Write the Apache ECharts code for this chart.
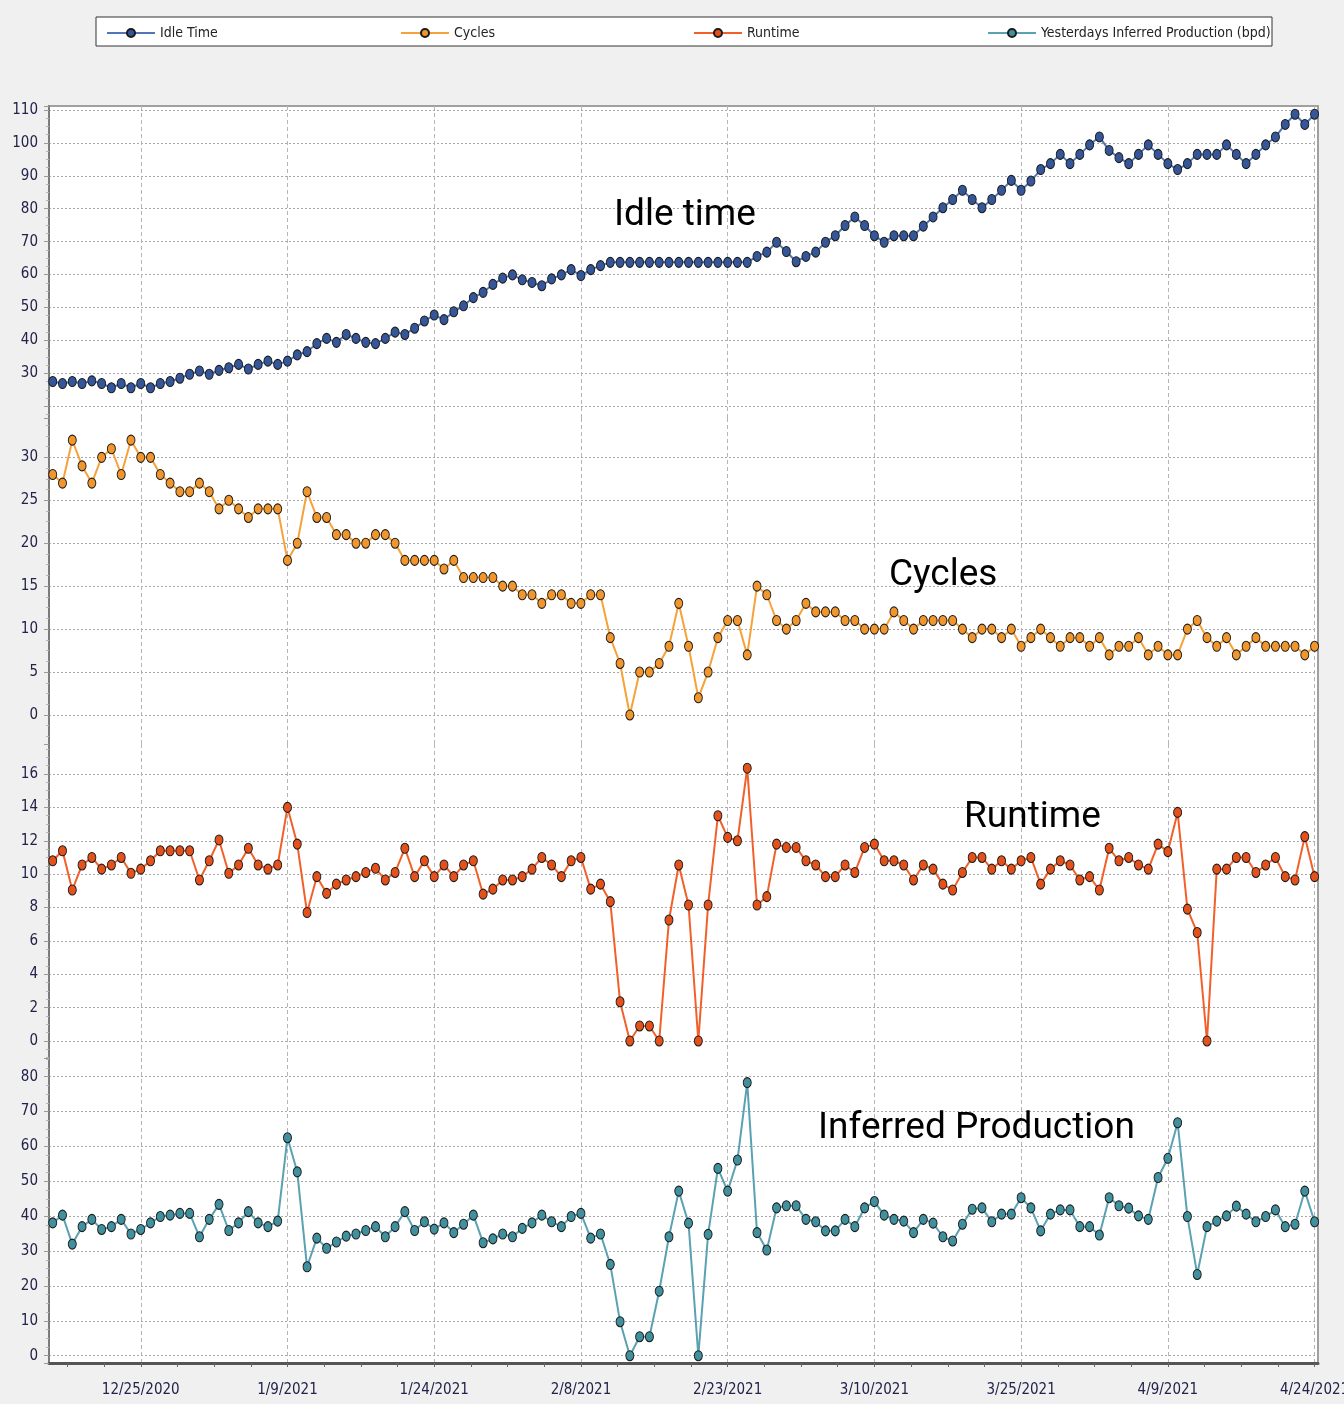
<!DOCTYPE html>
<html>
<head>
<meta charset="utf-8">
<script src="https://cdn.jsdelivr.net/npm/echarts@6/dist/echarts.min.js"></script>
<style>
  html, body { margin: 0; padding: 0; background: #f0f0f0; }
  #chart { width: 1344px; height: 1404px; }
</style>
</head>
<body>
<div id="chart"></div>
<script>
// day index 0 = 12/16/2020, one point per day up to 4/24/2021
const tickDays = [9, 24, 39, 54, 69, 84, 99, 114, 129];
const tickLabels = ['12/25/2020', '1/9/2021', '1/24/2021', '2/8/2021', '2/23/2021', '3/10/2021', '3/25/2021', '4/9/2021', '4/24/2021'];
const seriesNames = ['Idle Time', 'Cycles', 'Runtime', 'Yesterdays Inferred Production (bpd)'];

const idleTime = [
  27.5, 26.9, 27.5, 26.9, 27.7, 26.9, 25.6, 26.9, 25.6, 26.9, 25.6, 26.9, 27.5, 28.5, 29.7, 30.7, 29.7, 30.9, 31.7, 32.7,
  31.3, 32.7, 33.7, 32.7, 33.7, 35.6, 36.6, 39.0, 40.6, 39.4, 41.8, 40.6, 39.4, 39.0, 40.6, 42.5, 41.8, 43.7, 45.9, 47.7,
  46.3, 48.7, 50.5, 53.0, 54.6, 57.0, 58.9, 59.9, 58.4, 57.6, 56.6, 58.7, 59.9, 61.5, 59.7, 61.5, 62.7, 63.7, 63.7, 63.7,
  63.7, 63.7, 63.7, 63.7, 63.7, 63.7, 63.7, 63.7, 63.7, 63.7, 63.7, 63.7, 65.5, 66.8, 69.8, 67.0, 63.9, 65.5, 66.8, 69.8,
  71.8, 74.9, 77.5, 74.9, 71.8, 69.8, 71.8, 71.8, 71.8, 74.7, 77.5, 80.3, 82.8, 85.6, 82.8, 80.3, 82.8, 85.6, 88.6, 85.6,
  88.4, 91.9, 93.7, 96.5, 93.7, 96.5, 99.4, 101.8, 97.7, 95.5, 93.7, 96.5, 99.4, 96.5, 93.7, 91.9, 93.7, 96.5, 96.5, 96.5,
  99.4, 96.5, 93.7, 96.5, 99.4, 101.8, 105.6, 108.7, 105.6, 108.7
];

const cycles = [
  28, 27, 32, 29, 27, 30, 31, 28, 32, 30, 30, 28, 27, 26, 26, 27, 26, 24, 25, 24,
  23, 24, 24, 24, 18, 20, 26, 23, 23, 21, 21, 20, 20, 21, 21, 20, 18, 18, 18, 18,
  17, 18, 16, 16, 16, 16, 15, 15, 14, 14, 13, 14, 14, 13, 13, 14, 14, 9, 6, 0,
  5, 5, 6, 8, 13, 8, 2, 5, 9, 11, 11, 7, 15, 14, 11, 10, 11, 13, 12, 12,
  12, 11, 11, 10, 10, 10, 12, 11, 10, 11, 11, 11, 11, 10, 9, 10, 10, 9, 10, 8,
  9, 10, 9, 8, 9, 9, 8, 9, 7, 8, 8, 9, 7, 8, 7, 7, 10, 11, 9, 8,
  9, 7, 8, 9, 8, 8, 8, 8, 7, 8
];

const runtime = [
  10.8, 11.4, 9.05, 10.55, 11.0, 10.3, 10.55, 11.0, 10.05, 10.3, 10.8, 11.4, 11.4, 11.4, 11.4, 9.65, 10.8, 12.05, 10.05, 10.55,
  11.55, 10.55, 10.3, 10.55, 14.0, 11.8, 7.7, 9.85, 8.85, 9.4, 9.65, 9.85, 10.1, 10.35, 9.65, 10.1, 11.55, 9.85, 10.8, 9.85,
  10.55, 9.85, 10.55, 10.8, 8.8, 9.1, 9.65, 9.65, 9.85, 10.3, 11.0, 10.55, 9.85, 10.8, 11.0, 9.1, 9.4, 8.35, 2.35, 0,
  0.9, 0.9, 0, 7.25, 10.55, 8.15, 0, 8.15, 13.5, 12.2, 12.0, 16.35, 8.15, 8.65, 11.8, 11.6, 11.6, 10.8, 10.55, 9.85,
  9.85, 10.55, 10.1, 11.6, 11.8, 10.8, 10.8, 10.55, 9.65, 10.55, 10.3, 9.4, 9.05, 10.1, 11.0, 11.0, 10.3, 10.8, 10.3, 10.8,
  11.0, 9.4, 10.3, 10.8, 10.55, 9.65, 9.85, 9.05, 11.55, 10.8, 11.0, 10.55, 10.3, 11.8, 11.35, 13.7, 7.9, 6.5, 0, 10.3,
  10.3, 11.0, 11.0, 10.1, 10.55, 11.0, 9.85, 9.65, 12.25, 9.85
];

const production = [
  38.1, 40.3, 32.0, 37.0, 39.1, 36.2, 37.0, 39.1, 34.9, 36.2, 38.1, 39.9, 40.3, 40.8, 40.8, 34.1, 39.1, 43.4, 35.9, 38.1,
  41.3, 38.1, 37.0, 38.6, 62.5, 52.7, 25.5, 33.7, 30.8, 32.6, 34.3, 34.9, 35.9, 37.0, 34.1, 37.0, 41.3, 35.9, 38.4, 36.3,
  38.1, 35.3, 37.7, 40.3, 32.4, 33.5, 34.9, 34.1, 36.5, 38.1, 40.3, 38.4, 37.0, 39.9, 40.8, 33.7, 34.9, 26.2, 9.75, 0,
  5.45, 5.45, 18.5, 34.1, 47.2, 38.0, 0, 34.8, 53.7, 47.2, 56.1, 78.3, 35.3, 30.3, 42.4, 43.0, 43.0, 39.1, 38.4, 35.8,
  35.8, 39.1, 37.0, 42.4, 44.2, 40.3, 39.1, 38.6, 35.3, 39.1, 38.0, 34.1, 32.9, 37.7, 42.0, 42.4, 38.4, 40.6, 40.6, 45.3,
  42.4, 35.8, 40.6, 41.8, 41.8, 37.0, 37.0, 34.6, 45.3, 43.0, 42.3, 40.1, 39.1, 51.1, 56.6, 66.8, 39.9, 23.3, 37.0, 38.6,
  40.1, 42.9, 40.6, 38.4, 39.9, 41.8, 37.0, 37.7, 47.2, 38.4
];

const narrowFont = "'DejaVu Sans Condensed', sans-serif";

// small ticks under the date axis, four per 15 days
const minorDays = [];
for (let d = 1.5; d <= 129.5; d += 3.75) minorDays.push(d);

const grids = [
  { left: 49, width: 1269, top: 106, height: 312, outerBoundsMode: 'none' },
  { left: 49, width: 1269, top: 418, height: 326, outerBoundsMode: 'none' },
  { left: 49, width: 1269, top: 744, height: 314, outerBoundsMode: 'none' },
  { left: 49, width: 1269, top: 1058, height: 305, outerBoundsMode: 'none' },
];

function dayAxis(gridIndex, showLabels) {
  return {
    type: 'value', gridIndex, min: -0.38, max: 129.35, position: 'bottom',
    axisLine: { show: showLabels, onZero: false, lineStyle: { color: '#555', width: 3 } },
    axisTick: { show: false, customValues: tickDays },
    axisLabel: {
      show: showLabels, customValues: tickDays, margin: 20,
      fontFamily: narrowFont, fontSize: 15, color: '#22224a',
      formatter: v => tickLabels[tickDays.indexOf(v)] || '',
    },
    splitLine: { show: true, lineStyle: { color: '#b4b4b4', type: [4, 3], width: 1 } },
  };
}

function valueAxis(gridIndex, min, max, splitNumber, lowest, highest) {
  return {
    type: 'value', gridIndex, min, max, splitNumber,
    axisLine: { show: true, onZero: false, lineStyle: { color: '#7b7b7b', width: 2 } },
    axisTick: { show: true, length: 5, lineStyle: { color: '#9a9a9a' } },
    minorTick: { show: true, splitNumber: 4, length: 3, lineStyle: { color: '#b4b4b4' } },
    axisLabel: {
      showMinLabel: false, showMaxLabel: false, margin: 11,
      fontFamily: narrowFont, fontSize: 15, color: '#22224a',
      formatter: v => (v < lowest || v > highest ? '' : String(v)),
    },
    splitLine: { show: true, showMinLine: false, showMaxLine: false, lineStyle: { color: '#a8a8a8', type: [2, 2], width: 1 } },
  };
}

function lineSeries(name, values, idx, lineColor, dotColor) {
  return {
    name, type: 'line', xAxisIndex: idx, yAxisIndex: idx,
    data: values.map((v, i) => [i, v]),
    symbol: 'circle', symbolSize: [8, 10],
    lineStyle: { color: lineColor, width: 2 },
    itemStyle: { color: dotColor, borderColor: '#1b1b1b', borderWidth: 1 },
  };
}

const legendLefts = [101, 395, 688, 982];

const option = {
  animation: false,
  backgroundColor: '#f0f0f0',
  grid: grids,
  legend: seriesNames.map((name, k) => ({
    data: [name], left: legendLefts[k], top: 21, itemWidth: 48, itemHeight: 10,
    selectedMode: false,
    textStyle: { fontFamily: narrowFont, fontSize: 14, color: '#222' },
  })),
  xAxis: [
    dayAxis(0, false), dayAxis(1, false), dayAxis(2, false), dayAxis(3, true),
    {
      type: 'value', gridIndex: 3, min: -0.38, max: 129.35, position: 'bottom',
      axisLine: { show: false, onZero: false },
      axisTick: { show: true, length: 4, customValues: minorDays, lineStyle: { color: '#666' } },
      axisLabel: { show: false }, splitLine: { show: false },
    },
  ],
  yAxis: [
    valueAxis(0, 16.42, 111.2, 9, 30, 110),
    valueAxis(1, -3.38, 34.58, 8, 0, 30),
    valueAxis(2, -1.02, 17.8, 9, 0, 16),
    valueAxis(3, -2.09, 85.36, 9, 0, 80),
  ],
  series: [
    lineSeries(seriesNames[0], idleTime, 0, '#5078b8', '#35579a'),
    lineSeries(seriesNames[1], cycles, 1, '#f6a238', '#f0962c'),
    lineSeries(seriesNames[2], runtime, 2, '#f2602a', '#e5511b'),
    lineSeries(seriesNames[3], production, 3, '#5aa2b2', '#40909e'),
  ],
  graphic: { elements: [
    { type: 'rect', z: -10, shape: { x: 49, y: 106, width: 1269, height: 1257 },
      style: { fill: '#fff', stroke: '#a0a0a0', lineWidth: 2 } },
    { type: 'rect', z: -10, shape: { x: 96, y: 17, width: 1176, height: 29 },
      style: { fill: '#fff', stroke: '#333', lineWidth: 1 } },
    { type: 'text', z: 100, x: 614, y: 216, style: { text: 'Idle time', font: "37px Roboto", fill: '#000', verticalAlign: 'middle' } },
    { type: 'text', z: 100, x: 889, y: 576, style: { text: 'Cycles', font: "37px Roboto", fill: '#000', verticalAlign: 'middle' } },
    { type: 'text', z: 100, x: 964, y: 818, style: { text: 'Runtime', font: "37px Roboto", fill: '#000', verticalAlign: 'middle' } },
    { type: 'text', z: 100, x: 818, y: 1129, style: { text: 'Inferred Production', font: "37px Roboto", fill: '#000', verticalAlign: 'middle' } },
  ] },
};

const chart = echarts.init(document.getElementById('chart'), null, { renderer: 'canvas' });
chart.setOption(option);
</script>
</body>
</html>
